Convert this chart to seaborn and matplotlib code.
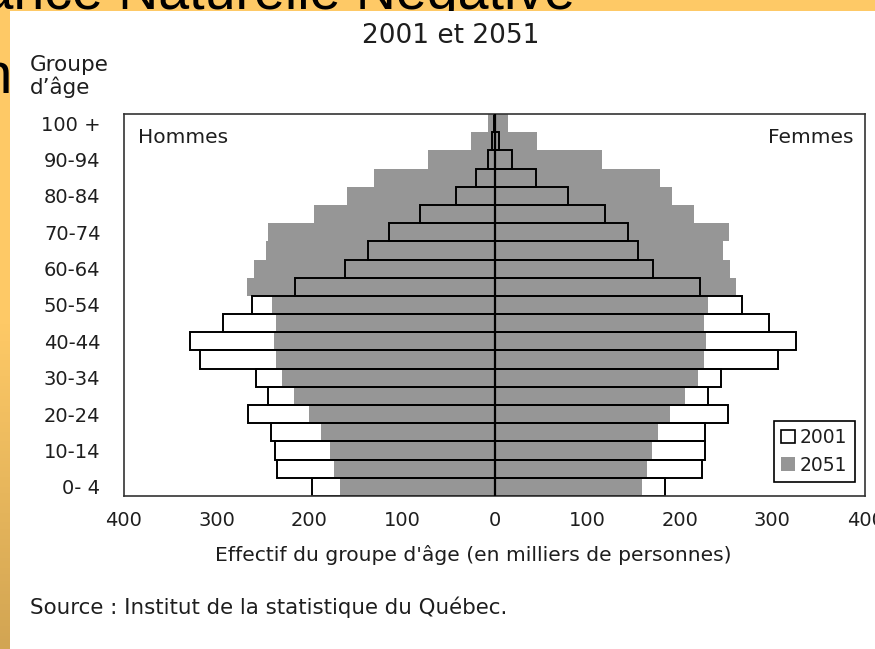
import numpy as np
import pandas as pd
import seaborn as sns
import matplotlib.pyplot as plt
from matplotlib.patches import Patch, Rectangle
from matplotlib.colors import LinearSegmentedColormap

# Data (milliers de personnes), du groupe le plus âgé au plus jeune
groupes = ["100 +", "95-99", "90-94", "85-89", "80-84", "75-79", "70-74", "65-69",
           "60-64", "55-59", "50-54", "45-49", "40-44", "35-39", "30-34", "25-29",
           "20-24", "15-19", "10-14", "5-9", "0- 4"]
hommes_2001 = [0.4, 2.4, 6.5, 20, 42, 80, 114, 137, 161, 215, 262, 293, 329, 318,
               258, 244, 266, 241, 237, 235, 197]
hommes_2051 = [7, 25, 72, 130, 159, 195, 245, 247, 260, 267, 240, 236, 238, 236,
               229, 216, 200, 187, 178, 173, 167]
femmes_2001 = [1, 5, 18.6, 45, 79, 119, 144, 155, 171, 222, 267, 296, 325, 306,
               245, 231, 252, 227, 227, 224, 184]
femmes_2051 = [15, 46, 116, 179, 192, 215, 253, 247, 254, 261, 230, 226, 228, 226,
               220, 206, 190, 177, 170, 165, 159]
x_ticks = [-400, -300, -200, -100, 0, 100, 200, 300, 400]

sns.set_style("white")
plt.rcParams['font.family'] = ['DejaVu Sans']
txt = '#1e1e1e'
gris = '#969696'

df = pd.DataFrame({
    'groupe': groupes,
    'h2001': [-v for v in hommes_2001],
    'f2001': femmes_2001,
    'h2051': [-v for v in hommes_2051],
    'f2051': femmes_2051,
})

W, H = 875, 649
fig = plt.figure(figsize=(W / 100, H / 100), dpi=100)
fig.patch.set_facecolor('#FEC966')

# slide background
bg = fig.add_axes([0, 0, 1, 1], zorder=0)
grad = np.linspace(0, 1, 200).reshape(-1, 1)
bg.imshow(grad, cmap=LinearSegmentedColormap.from_list('bord', ['#FEC966', '#FEC966', '#D2A553']),
          extent=(0, 10, H, 0), aspect='auto')
bg.text(575, 9, "Croissance Naturelle Négative", ha='right', va='baseline',
        fontsize=40, family='Liberation Sans', color='black', zorder=2)
bg.text(12, 93, "n", ha='right', va='baseline', fontsize=42,
        family='Liberation Sans', color='black', zorder=2)
bg.add_patch(Rectangle((10, 11), W - 10, H - 11, facecolor='white', edgecolor='none', zorder=5))
bg.set_xlim(0, W)
bg.set_ylim(H, 0)
bg.axis('off')

# pyramid
ax = fig.add_axes([124 / W, 1 - 496 / H, 741 / W, 382 / H], zorder=1)
for col in ['h2001', 'f2001']:
    sns.barplot(data=df, x=col, y='groupe', color='white', width=1, linewidth=0,
                saturation=1, errorbar=None, ax=ax)
for col in ['h2051', 'f2051']:
    sns.barplot(data=df, x=col, y='groupe', color=gris, width=1, linewidth=0,
                saturation=1, errorbar=None, ax=ax)
for col in ['h2001', 'f2001']:
    sns.barplot(data=df, x=col, y='groupe', color='black', fill=False, width=1,
                linewidth=1.4, saturation=1, errorbar=None, ax=ax)
ax.axvline(0, color='black', lw=1.6, zorder=5)

ax.set_xlim(-400, 400)
ax.set_xticks(x_ticks, [str(abs(t)) for t in x_ticks])
ax.set_yticks(range(0, len(groupes), 2), groupes[::2])
ax.set_ylim(len(groupes) - 0.5, -0.5)
ax.set_xlabel('')
ax.set_ylabel('')
ax.tick_params(axis='x', direction='out', length=6.5, width=1, pad=4.5,
               labelsize=14, color='#333333', labelcolor=txt)
ax.tick_params(axis='y', length=0, pad=17, labelsize=14, labelcolor=txt)
for s in ax.spines.values():
    s.set_visible(True)
    s.set_color('#333333')
    s.set_linewidth(1.2)

handles = [Patch(facecolor='white', edgecolor='black', linewidth=1.2, label='2001'),
           Patch(facecolor=gris, edgecolor='none', label='2051')]
leg = ax.legend(handles=handles, loc='lower right', bbox_to_anchor=(0.9865, 0.0366),
                borderaxespad=0, fontsize=13.5, frameon=True, fancybox=False,
                framealpha=1, edgecolor='black', handlelength=0.75, handleheight=0.75,
                handletextpad=0.25, borderpad=0.4, labelspacing=0.45)
leg.get_frame().set_linewidth(1.2)
for t in leg.get_texts():
    t.set_color(txt)

# texts
fig.text(451 / W, 1 - 43 / H, "2001 et 2051", ha='center', va='baseline', fontsize=19, color=txt)
fig.text(30 / W, 1 - 71 / H, "Groupe", ha='left', va='baseline', fontsize=15.5, color=txt)
fig.text(30 / W, 1 - 94 / H, "d’âge", ha='left', va='baseline', fontsize=15.5, color=txt)
fig.text(138 / W, 1 - 143 / H, "Hommes", ha='left', va='baseline', fontsize=14.5, color=txt)
fig.text(853 / W, 1 - 143 / H, "Femmes", ha='right', va='baseline', fontsize=14.5, color=txt)
fig.text(473.5 / W, 1 - 561 / H, "Effectif du groupe d'âge (en milliers de personnes)",
         ha='center', va='baseline', fontsize=14.6, color=txt)
fig.text(30 / W, 1 - 614 / H, "Source : Institut de la statistique du Québec.",
         ha='left', va='baseline', fontsize=15.4, color=txt)

fig.savefig('out.png', dpi=100)
